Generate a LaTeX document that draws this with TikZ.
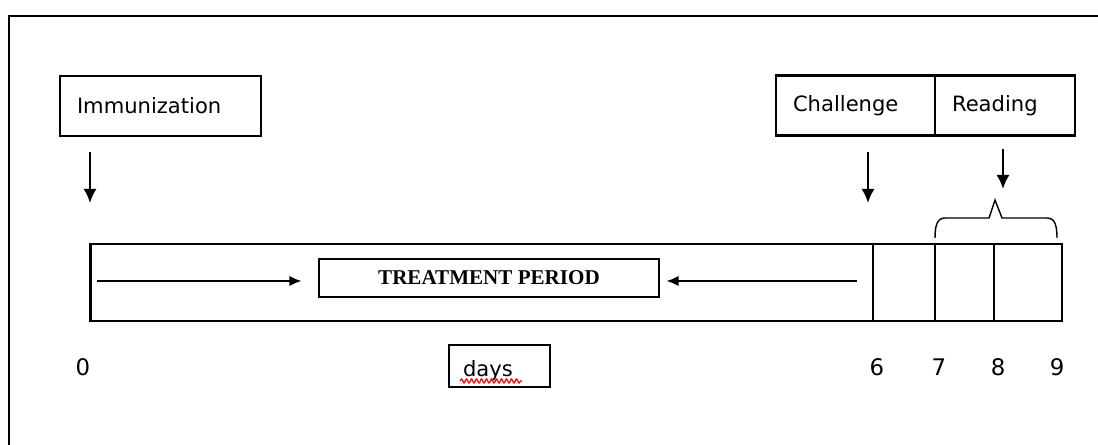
\documentclass[tikz,border=0pt]{standalone}
\usepackage{fontspec}
\newfontfamily\handfont{DejaVu Sans}
\newfontfamily\serifbold{Liberation Serif}
\usetikzlibrary{arrows.meta,decorations.pathmorphing}

\tikzset{
	labelbox/.style={draw, line width=1.6pt, inner ysep=0pt, inner xsep=0.34cm, align=left, font=\handfont\fontsize{12}{14}\selectfont},
	daylabel/.style={font=\handfont\fontsize{13}{15}\selectfont, inner sep=0pt},
	downarrow/.style={line width=1.3pt, -{Latex[length=8pt,width=7.5pt]}},
	flowarrow/.style={line width=1.3pt, -{Latex[length=7pt,width=6pt]}},
}

\begin{document}
\begin{tikzpicture}[x=0.02cm, y=-0.02cm]
		%%%%% START %%%%%
		\useasboundingbox (0, 0) rectangle (1098, 445);
		
		\draw[line width=1.2pt] (9, 445) -- (9, 16) -- (1098, 16);
		
		\node[labelbox, text width=3.34cm, minimum height=1.2cm] (immun) at (160.5, 106) {Immunization};
		\node[labelbox, text width=2.5cm, minimum height=1.2cm] (chall) at (855.5, 105.5) {Challenge};
		\node[labelbox, text width=2.12cm, minimum height=1.2cm] (read) at (1005, 105.5) {Reading};
		
		\node[draw, line width=1.6pt, minimum width=19.44cm, minimum height=1.54cm] (bar) at (576, 282.5) {};
		\foreach \x in {873, 935, 994}
			\draw[line width=1.6pt] (\x, 0 |- bar.north) -- (\x, 0 |- bar.south);
		
		\node[draw, line width=1.6pt, minimum width=6.8cm, minimum height=0.76cm, font=\serifbold\bfseries\fontsize{12}{14}\selectfont] (treat) at (489, 278) {TREATMENT PERIOD};
		
		\coordinate (lstart) at (97, 281);
		\coordinate (rstart) at (857, 281);
		\draw[flowarrow, shorten >=0.32cm] (lstart) -- (lstart -| treat.west);
		\draw[flowarrow, shorten >=0.12cm] (rstart) -- (rstart -| treat.east);
		
		\coordinate (immtop) at (90, 152);
		\coordinate (immtip) at (90, 203);
		\coordinate (chatop) at (868, 152);
		\coordinate (chatip) at (868, 203);
		\coordinate (readtop) at (1003, 149);
		\coordinate (readtip) at (1003, 189);
		\draw[downarrow] (immtop) -- (immtip);
		\draw[downarrow] (chatop) -- (chatip);
		\draw[downarrow] (readtop) -- (readtip);
		
		\draw[line width=0.8pt] (935, 238) .. controls (935, 226) and (937, 218) .. (945, 218) -- (989, 218) -- (995, 200) -- (1002, 218) -- (1047, 218) .. controls (1055, 218) and (1057, 226) .. (1057, 238);
		
		\node[daylabel] (d0) at (83, 367) {0};
		\node[daylabel] (d6) at (877, 367) {6};
		\node[daylabel] (d7) at (939, 367) {7};
		\node[daylabel] (d8) at (998, 367) {8};
		\node[daylabel] (d9) at (1057, 367) {9};
		
		\node[labelbox, text width=1.46cm, minimum height=0.84cm, inner xsep=0.28cm] (days) at (499.5, 366) {\raisebox{-6pt}[0pt][0pt]{days}};
		\draw[red, line width=0.7pt, decorate, decoration={snake, amplitude=0.04cm, segment length=0.1cm}] (460, 381) -- (522, 381);
		
		%%%%% END %%%%%
	\end{tikzpicture}
\end{document}
